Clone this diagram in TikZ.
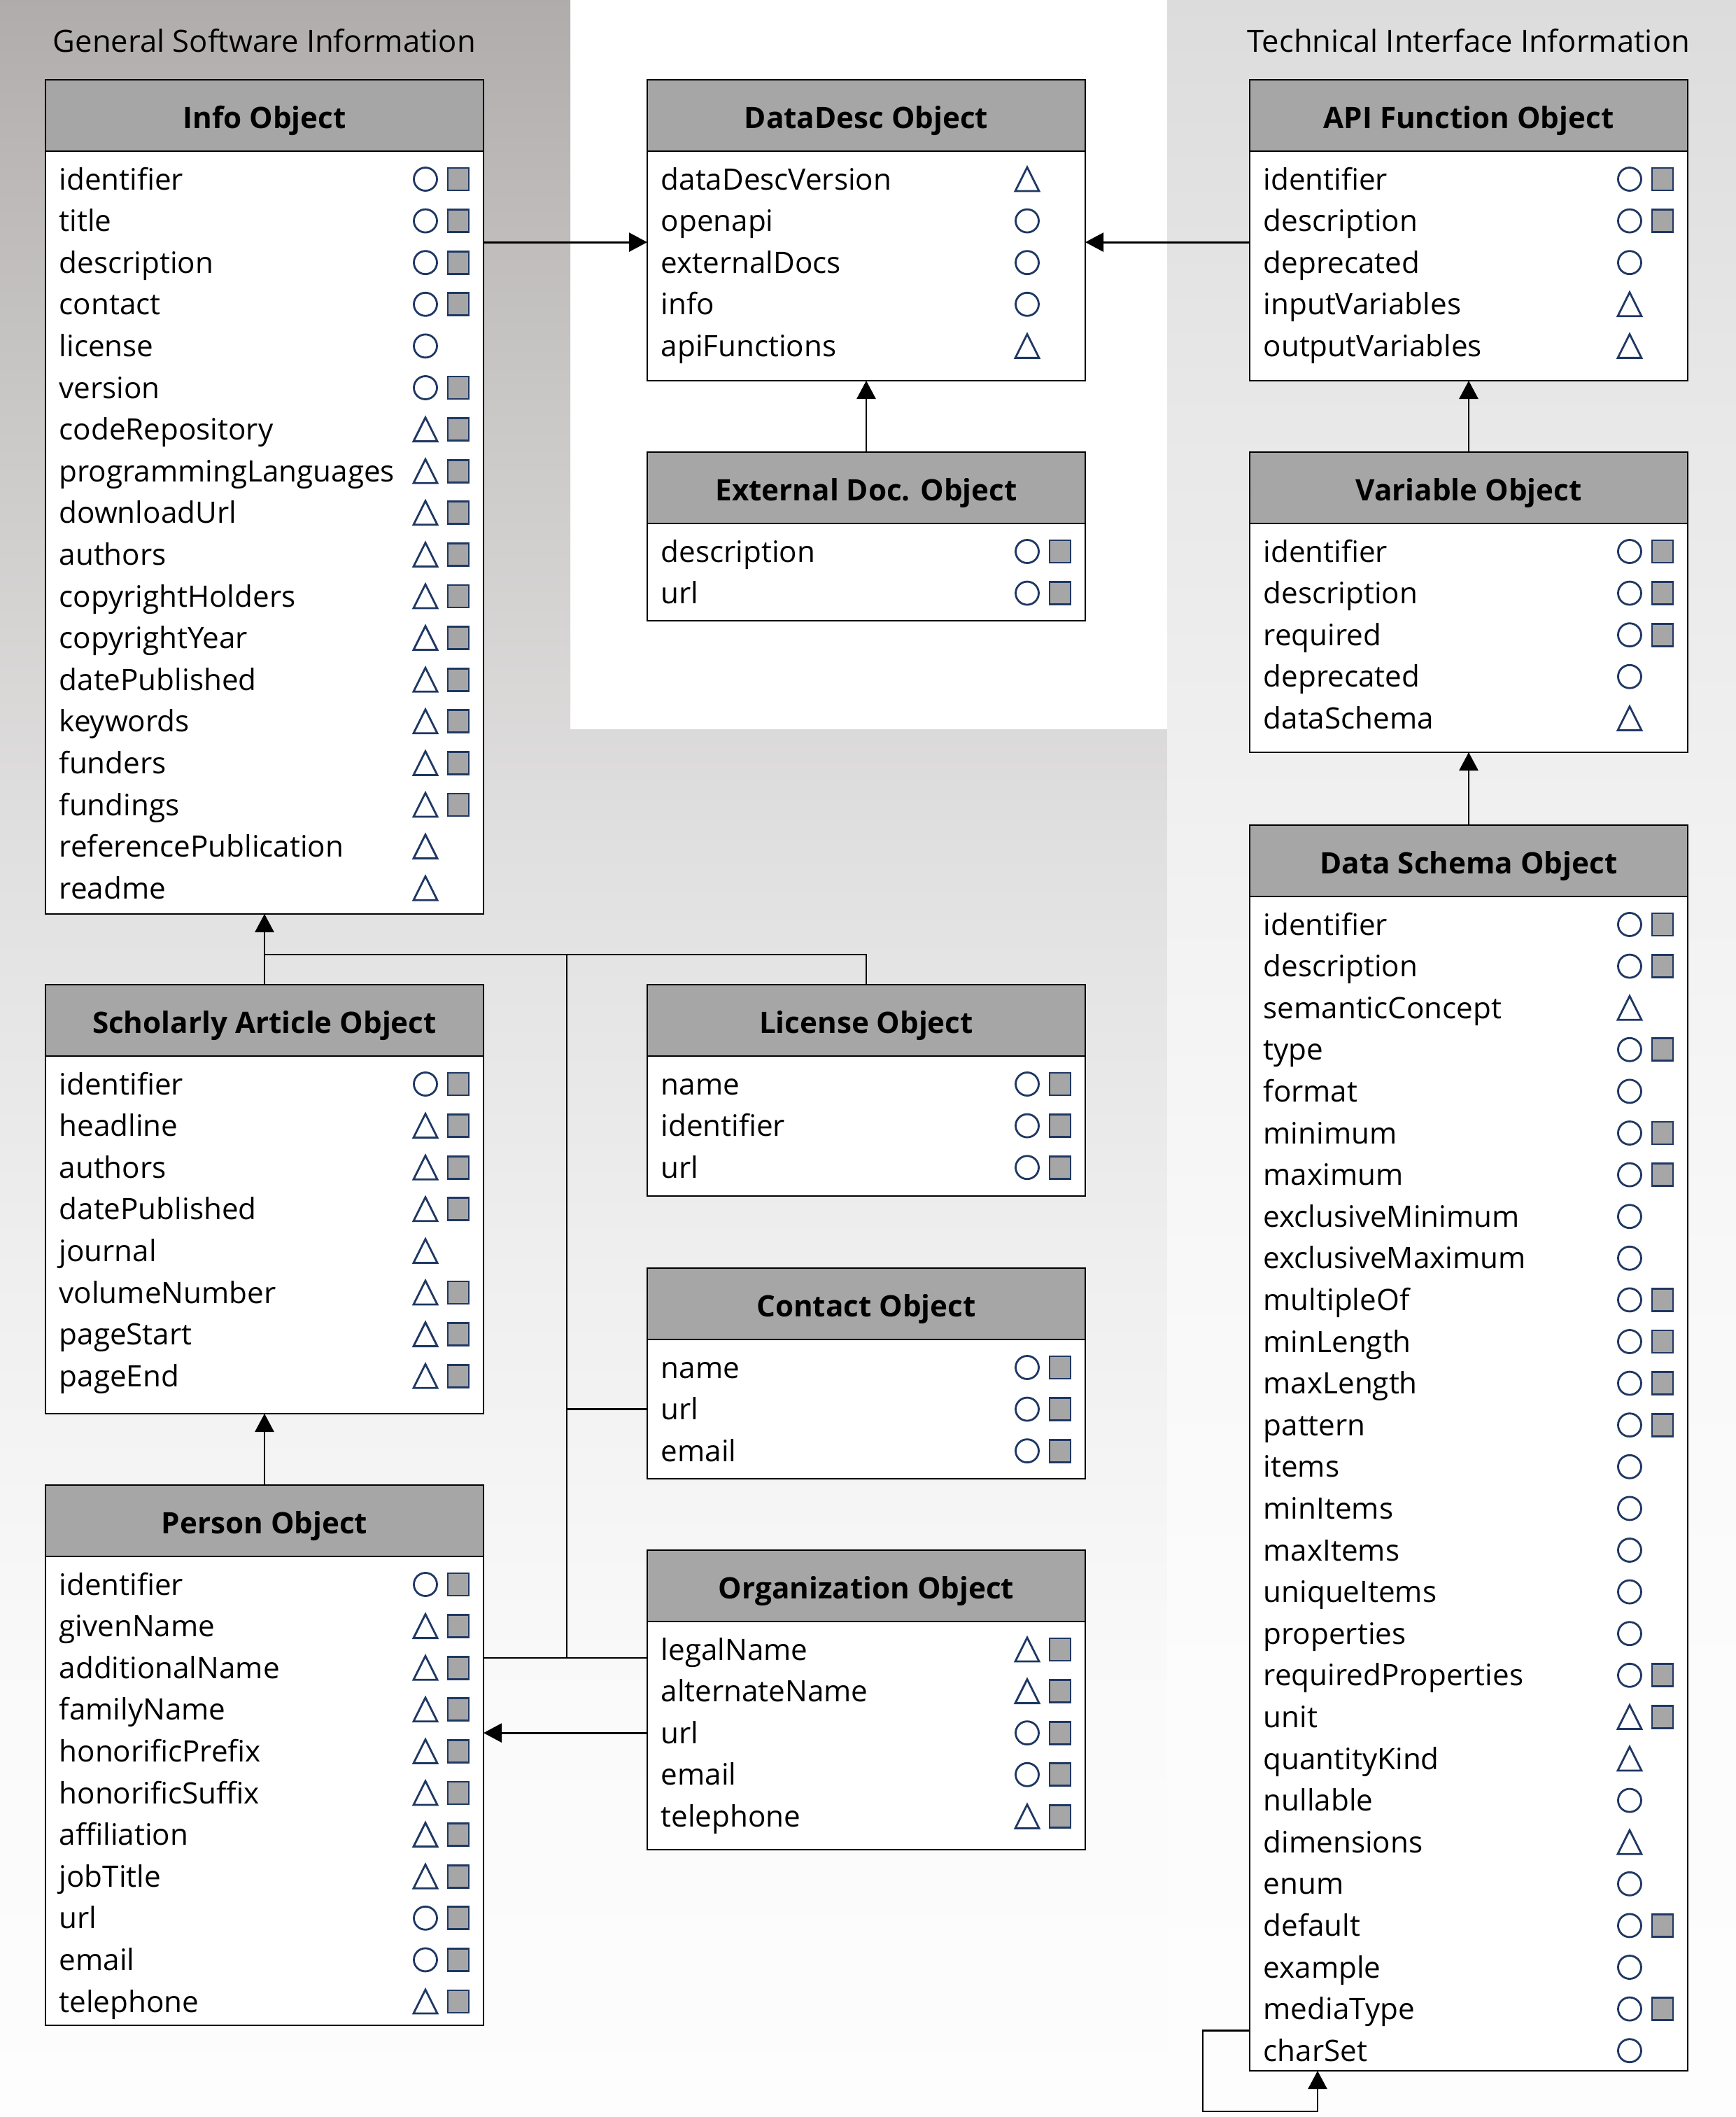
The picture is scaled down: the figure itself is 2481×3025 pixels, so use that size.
\documentclass[tikz,border=0pt]{standalone}
\usepackage{fontspec}
\setmainfont{Open Sans}
\usetikzlibrary{positioning, calc, arrows.meta}

\definecolor{navy}{RGB}{31,56,100}
\definecolor{headgray}{RGB}{166,166,166}

% background fades (top of box = 75bp, bottom = 25bp)
\pgfdeclareverticalshading{leftfade}{100bp}{rgb(0bp)=(0.992,0.992,0.992); rgb(25bp)=(0.992,0.992,0.992); rgb(35bp)=(0.98,0.98,0.98); rgb(45bp)=(0.941,0.937,0.937); rgb(55bp)=(0.882,0.878,0.878); rgb(65bp)=(0.796,0.788,0.784); rgb(75bp)=(0.69,0.675,0.671); rgb(100bp)=(0.69,0.675,0.671)}
\pgfdeclareverticalshading{rightfade}{100bp}{rgb(0bp)=(0.992,0.992,0.992); rgb(25bp)=(0.992,0.992,0.992); rgb(35bp)=(0.988,0.988,0.988); rgb(45bp)=(0.973,0.973,0.973); rgb(55bp)=(0.945,0.945,0.945); rgb(65bp)=(0.91,0.91,0.91); rgb(75bp)=(0.863,0.863,0.863); rgb(100bp)=(0.863,0.863,0.863)}

\newcommand{\diafont}{\fontsize{12pt}{14pt}\selectfont}

% attribute markers
\newcommand{\symO}{\draw[symline] (s1) circle[radius=1.65mm];}
\newcommand{\symT}{\draw[symline] ([shift={(-17,17)}]s1) -- ([shift={(0,-17)}]s1) -- ([shift={(17,17)}]s1) -- cycle;}
\newcommand{\symS}{\draw[symline, fill=headgray] ([shift={(-15,-16)}]s2) rectangle ([shift={(15,16)}]s2);}
\newcommand{\symOS}{\symO\symS}
\newcommand{\symTS}{\symT\symS}

% object box: name, placement, title, body height, rows
\newcommand{\objbox}[5]{
  \node[objhead, #2] (#1-h) {#3};
  \node[objbody, minimum height=#4, below=0pt of #1-h] (#1) {};
  \foreach \lbl/\kind [count=\i] in {#5} {
    \node[objrow] (#1-\i) at ([shift={(19,{40+(\i-1)*59.6})}]#1.north west) {\lbl};
    \coordinate (s1) at ($(#1.east |- #1-\i)+(-83,0)$);
    \coordinate (s2) at ($(#1.east |- #1-\i)+(-36,0)$);
    \csname sym\kind\endcsname
  }
}

\begin{document}
\begin{tikzpicture}[
    x=0.1mm, y=-0.1mm,
    objhead/.style={draw, line width=0.85pt, fill=headgray, outer sep=0pt, inner sep=0pt,
      minimum width=62.6mm, minimum height=10.2mm, font=\diafont\bfseries, text height=3.6mm, text depth=0pt},
    objbody/.style={draw, line width=0.85pt, fill=white, outer sep=0pt, inner sep=0pt, minimum width=62.6mm},
    objrow/.style={anchor=west, inner sep=0pt, minimum height=5.96mm, text height=3.3mm, text depth=0.3mm, font=\diafont},
    grouplabel/.style={inner sep=0pt, text height=3.3mm, text depth=0.3mm, font=\fontsize{12.4pt}{14pt}\selectfont},
    symline/.style={draw=navy, line width=0.8pt},
    link/.style={line width=0.8pt},
    arrow/.style={link, -{Triangle[length=2.6mm, width=2.7mm]}}
]
    \useasboundingbox (0,0) rectangle (2481,3025);
    % Backgrounds
    \fill[white] (0,0) rectangle (2481,3025);
    \shade[shading=leftfade] (0,0) -- (815,0) -- (815,1042) -- (1668,1042) -- (1668,3025) -- (0,3025) -- cycle;
    \shade[shading=rightfade] (1668,0) rectangle (2481,3025);

    % Objects
    \objbox{info}{anchor=north west, at={(65,114)}}{Info Object}{109mm}{identifier/OS, title/OS, description/OS, contact/OS, license/O, version/OS, codeRepository/TS, programmingLanguages/TS, downloadUrl/TS, authors/TS, copyrightHolders/TS, copyrightYear/TS, datePublished/TS, keywords/TS, funders/TS, fundings/TS, referencePublication/T, readme/T}
    \objbox{ddesc}{right=23.4mm of info-h}{DataDesc Object}{32.8mm}{dataDescVersion/T, openapi/O, externalDocs/O, info/O, apiFunctions/T}
    \objbox{api}{right=23.5mm of ddesc-h}{API Function Object}{32.8mm}{identifier/OS, description/OS, deprecated/O, inputVariables/T, outputVariables/T}
    \objbox{ext}{below=10.2mm of ddesc}{External Doc. Object}{13.9mm}{description/OS, url/OS}
    \objbox{var}{below=10.2mm of api}{Variable Object}{32.7mm}{identifier/OS, description/OS, required/OS, deprecated/O, dataSchema/T}
    \objbox{ds}{below=10.4mm of var}{Data Schema Object}{167.8mm}{identifier/OS, description/OS, semanticConcept/T, type/OS, format/O, minimum/OS, maximum/OS, exclusiveMinimum/O, exclusiveMaximum/O, multipleOf/OS, minLength/OS, maxLength/OS, pattern/OS, items/O, minItems/O, maxItems/O, uniqueItems/O, properties/O, requiredProperties/OS, unit/TS, quantityKind/T, nullable/O, dimensions/T, enum/O, default/OS, example/O, mediaType/OS, charSet/O}
    \objbox{schol}{below=10.1mm of info}{Scholarly Article Object}{51.1mm}{identifier/OS, headline/TS, authors/TS, datePublished/TS, journal/T, volumeNumber/TS, pageStart/TS, pageEnd/TS}
    \objbox{lic}{right=23.4mm of schol-h}{License Object}{20mm}{name/OS, identifier/OS, url/OS}
    \objbox{contact}{below=10.3mm of lic}{Contact Object}{19.9mm}{name/OS, url/OS, email/OS}
    \objbox{person}{below=10.2mm of schol}{Person Object}{67mm}{identifier/OS, givenName/TS, additionalName/TS, familyName/TS, honorificPrefix/TS, honorificSuffix/TS, affiliation/TS, jobTitle/TS, url/OS, email/OS, telephone/TS}
    \objbox{org}{below=10.2mm of contact}{Organization Object}{32.6mm}{legalName/TS, alternateName/TS, url/OS, email/OS, telephone/TS}

    % Group labels
    \node[grouplabel, above=3.6mm of info-h] (gsi) {General Software Information};
    \node[grouplabel, above=3.6mm of api-h] (tii) {Technical Interface Information};

    % Connectors
    \coordinate (bus) at (810,1364);
    \coordinate (busend) at (810,2369);
    \coordinate (loopbase) at (1883,3017);
    \draw[arrow] (info.east |- ddesc-2.south) -- (ddesc.west |- ddesc-2.south);
    \draw[arrow] (api.west |- ddesc-2.south) -- (ddesc.east |- ddesc-2.south);
    \draw[arrow] (ext-h.north) -- (ddesc.south);
    \draw[arrow] (var-h.north) -- (api.south);
    \draw[arrow] (ds-h.north) -- (var.south);
    \draw[arrow] (ds.west |- ds-27.south) -- ++(-67,0) |- (loopbase) -- (loopbase |- ds.south);
    \draw[arrow] (schol-h.north) -- (info.south);
    \draw[link] (info.south |- bus) -| (lic-h.north);
    \draw[link] (bus) -- (busend);
    \draw[link] (person.east |- busend) -- (org.west |- busend);
    \draw[link] (contact.west |- contact-2) -- (bus |- contact-2);
    \draw[arrow] (org.west |- org-3) -- (person.east |- org-3);
    \draw[arrow] (person-h.north) -- (schol.south);
\end{tikzpicture}
\end{document}
